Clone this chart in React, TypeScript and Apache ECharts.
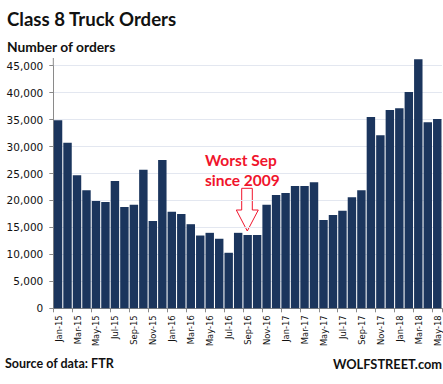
import React, { useEffect, useRef } from "react";
import * as echarts from "echarts";

const months = [
  "Jan-15","Feb-15","Mar-15","Apr-15","May-15","Jun-15","Jul-15","Aug-15","Sep-15","Oct-15","Nov-15","Dec-15",
  "Jan-16","Feb-16","Mar-16","Apr-16","May-16","Jun-16","Jul-16","Aug-16","Sep-16","Oct-16","Nov-16","Dec-16",
  "Jan-17","Feb-17","Mar-17","Apr-17","May-17","Jun-17","Jul-17","Aug-17","Sep-17","Oct-17","Nov-17","Dec-17",
  "Jan-18","Feb-18","Mar-18","Apr-18","May-18",
];

const orders2015 = [34900, 30700, 24700, 21900, 19900, 19700, 23600, 18800, 19200, 25700, 16200, 27500];
const orders2016 = [17900, 17500, 15600, 13500, 14000, 12900, 10300, 14000, 13600, 13600, 19200, 21000];
const orders2017 = [21400, 22700, 22700, 23400, 16400, 17300, 18100, 20600, 21900, 35500, 32100, 36800];
const orders2018 = [37100, 40100, 46200, 34500, 35100];

const orders = [...orders2015, ...orders2016, ...orders2017, ...orders2018];

const title = "Class 8 Truck Orders";
const subtitle = "Number of orders";
const source = "Source of data: FTR";
const brand = "WOLFSTREET.com";
const noteLine1 = "Worst Sep";
const noteLine2 = "since 2009";

const RED = "#F0142C";

export default function App() {
  const ref = useRef<HTMLDivElement>(null);
  useEffect(() => {
    if (!ref.current) return;
    const chart = echarts.init(ref.current, undefined, { renderer: "svg" });
    chart.setOption({
      animation: false,
      backgroundColor: "#ffffff",
      grid: { left: 53.3, right: 1, top: 65.7, bottom: 75.7, containLabel: false },
      xAxis: {
        type: "category",
        data: months,
        axisLine: { show: true, lineStyle: { color: "#8a8a8a", width: 1 } },
        axisTick: { show: true, interval: 1, length: 4, lineStyle: { color: "#8a8a8a" } },
        axisLabel: {
          interval: 1,
          rotate: 90,
          margin: 7,
          fontFamily: "DejaVu Sans Condensed, DejaVu Sans",
          fontSize: 9.3,
          color: "#111",
        },
        splitLine: { show: false },
      },
      yAxis: {
        type: "value",
        min: 0,
        max: 45000,
        interval: 5000,
        axisLine: { show: true, lineStyle: { color: "#8a8a8a", width: 1 } },
        axisTick: { show: true, length: 4, lineStyle: { color: "#8a8a8a" } },
        axisLabel: {
          margin: 10,
          fontFamily: "DejaVu Sans",
          fontSize: 10.5,
          color: "#111",
          formatter: (v: number) => v.toLocaleString("en-US"),
        },
        splitLine: { show: true, lineStyle: { color: "#E3E7F0", width: 1 } },
      },
      series: [
        {
          type: "bar",
          data: orders,
          clip: false,
          barCategoryGap: "11%",
          itemStyle: { color: "#1B355D" },
        },
      ],
      graphic: [
        {
          type: "line",
          shape: { x1: 53.3, y1: 58, x2: 53.3, y2: 66 },
          style: { stroke: "#8a8a8a", lineWidth: 1 },
        },
        {
          type: "text",
          left: 7,
          top: 9,
          style: { text: title, font: "bold 18.6px Lato", fill: "#111" },
        },
        {
          type: "text",
          left: 7,
          top: 39,
          style: { text: subtitle, font: "bold 13.8px Lato", fill: "#111" },
        },
        {
          type: "text",
          left: 5,
          top: 357,
          style: { text: source, font: "bold 12.5px Lato", fill: "#111" },
        },
        {
          type: "text",
          right: 1,
          top: 357,
          style: { text: brand, font: "bold 12.8px Lato", fill: "#111" },
        },
        {
          type: "text",
          left: 205,
          top: 152,
          style: { text: noteLine1, font: "bold 15.5px Lato", fill: RED },
        },
        {
          type: "text",
          left: 205,
          top: 172,
          style: { text: noteLine2, font: "bold 15.5px Lato", fill: RED },
        },
        {
          type: "polygon",
          shape: {
            points: [
              [241.7, 188.3],
              [252.3, 188.3],
              [252.3, 210],
              [258.3, 210],
              [247.3, 231],
              [236.3, 210],
              [241.7, 210],
            ],
          },
          style: { fill: "#ffffff", stroke: RED, lineWidth: 1 },
        },
      ],
    });
    return () => chart.dispose();
  }, []);
  return (
    <div
      ref={ref}
      style={{ position: "fixed", left: 0, top: 0, width: 443, height: 384 }}
    />
  );
}
